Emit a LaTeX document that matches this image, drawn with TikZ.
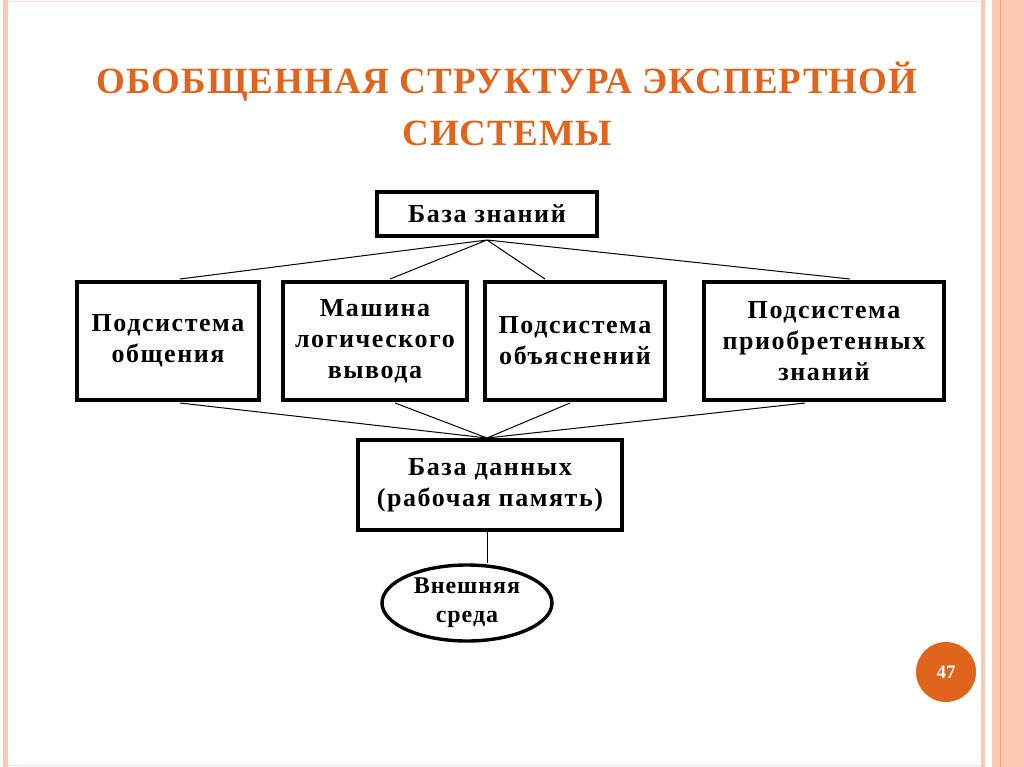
\documentclass[tikz,border=0pt]{standalone}
\usepackage{fontspec}
\setmainfont{Liberation Serif}
\usetikzlibrary{shapes.geometric}
\definecolor{ttl}{HTML}{E0641C}
\definecolor{stripe}{HTML}{FBC8B4}
\definecolor{stripeD}{HTML}{F4A27E}
\begin{document}
\begin{tikzpicture}[x=1pt,y=-1pt,
  bx/.style={draw,line width=3.4pt,align=center,font=\fontsize{26}{31}\selectfont\bfseries\addfontfeature{LetterSpace=6},inner sep=0pt},
  ln/.style={line width=1pt}]
\useasboundingbox (0,0) rectangle (1024,767);
\fill[white] (0,0) rectangle (1024,767);
\fill[stripe] (3,0) rectangle (8,767);
\fill[stripe] (981,0) rectangle (985,767);
\fill[stripe] (992,0) rectangle (1024,767);
\draw[stripeD,line width=1pt] (1000,0) -- (1000,767);
\draw[stripe!60,line width=0.6pt] (8,1) -- (981,1) (8,765) -- (981,765);
\node[ttl,font=\fontsize{37}{52}\selectfont\bfseries\addfontfeature{LetterSpace=3},align=center] (title) at (507,104)
  {ОБОБЩЕННАЯ СТРУКТУРА ЭКСПЕРТНОЙ\\СИСТЕМЫ};
\node[bx,minimum width=220pt,minimum height=44pt] (kb) at (487,214) {База знаний};
\node[bx,minimum width=182pt,minimum height=118pt] (s1) at (168,341) {Подсистема\\общения};
\node[bx,minimum width=184pt,minimum height=118pt] (s2) at (375,341) {Машина\\логического\\вывода};
\node[bx,minimum width=180pt,minimum height=118pt] (s3) at (575,341) {Подсистема\\объяснений};
\node[bx,minimum width=240pt,minimum height=118pt] (s4) at (824,341) {Подсистема\\приобретенных\\знаний};
\node[bx,minimum width=264pt,minimum height=90pt] (db) at (490,485) {База данных\\(рабочая память)};
\node[bx,ellipse,minimum width=170pt,minimum height=76pt,font=\fontsize{24}{29}\selectfont\bfseries\addfontfeature{LetterSpace=4}] (env) at (467,603) {Внешняя\\среда};
\coordinate (kbb) at (487,240);
\coordinate (dbt) at (487,438);
\draw[ln] (kbb) -- (180,279) (kbb) -- (390,279) (kbb) -- (545,279) (kbb) -- (850,279);
\draw[ln] (180,403) -- (dbt) (395,403) -- (dbt) (570,403) -- (dbt) (805,403) -- (dbt);
\draw[ln] (db.south -| env.north) ++(20,0) coordinate (a) -- (a |- env.north);
\node[circle,fill=ttl,minimum size=60pt,text=white,font=\fontsize{19}{22}\selectfont\bfseries] (pg) at (946,672) {47};
\end{tikzpicture}
\end{document}
